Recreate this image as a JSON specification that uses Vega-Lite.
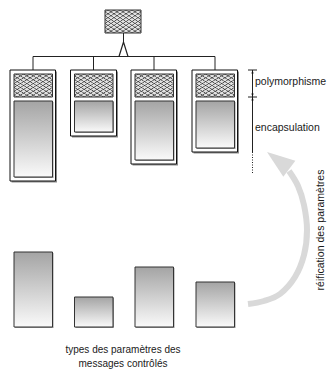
{
  "$schema": "https://vega.github.io/schema/vega-lite/v6.json",
  "width": 327,
  "height": 375,
  "padding": 0,
  "autosize": {"type": "none"},
  "background": "white",
  "config": {"view": {"stroke": null}},
  "datasets": {
    "frames": [
      {"box": 1, "x": 10, "x2": 55.5, "y": 70, "y2": 181},
      {"box": 2, "x": 70.5, "x2": 116.5, "y": 70, "y2": 136},
      {"box": 3, "x": 131, "x2": 176.5, "y": 70, "y2": 164},
      {"box": 4, "x": 192, "x2": 237.5, "y": 70, "y2": 152}
    ],
    "hatch": [
      {"part": "top", "x": 105, "x2": 141, "y": 10, "y2": 33},
      {"part": "box1", "x": 14, "x2": 52.5, "y": 74, "y2": 97},
      {"part": "box2", "x": 74.5, "x2": 113, "y": 74, "y2": 97},
      {"part": "box3", "x": 135, "x2": 173.5, "y": 74, "y2": 97},
      {"part": "box4", "x": 196, "x2": 234.5, "y": 74, "y2": 97}
    ],
    "grad": [
      {"part": "box1", "x": 14, "x2": 52.5, "y": 101, "y2": 177},
      {"part": "box2", "x": 74.5, "x2": 113, "y": 101, "y2": 132},
      {"part": "box3", "x": 135, "x2": 173.5, "y": 101, "y2": 160},
      {"part": "box4", "x": 196, "x2": 234.5, "y": 101, "y2": 148},
      {"part": "bar1", "x": 14, "x2": 52.5, "y": 252, "y2": 327},
      {"part": "bar2", "x": 74.5, "x2": 113, "y": 297, "y2": 327},
      {"part": "bar3", "x": 135, "x2": 173.5, "y": 267, "y2": 327},
      {"part": "bar4", "x": 196, "x2": 234.5, "y": 282, "y2": 327}
    ],
    "links": [
      {"x": 123.5, "y": 33, "x2": 123.5, "y2": 42},
      {"x": 33, "y": 56.5, "x2": 215, "y2": 56.5},
      {"x": 33, "y": 56.5, "x2": 33, "y2": 70},
      {"x": 93.5, "y": 56.5, "x2": 93.5, "y2": 70},
      {"x": 154, "y": 56.5, "x2": 154, "y2": 70},
      {"x": 215, "y": 56.5, "x2": 215, "y2": 70},
      {"x": 252.5, "y": 70, "x2": 252.5, "y2": 152},
      {"x": 248, "y": 70, "x2": 257, "y2": 70},
      {"x": 248, "y": 97, "x2": 257, "y2": 97}
    ],
    "dotted": [
      {"x": 252.5, "y": 152, "x2": 252.5, "y2": 174}
    ],
    "tri": [
      {"i": 1, "x": 119, "y": 56.5},
      {"i": 2, "x": 123.5, "y": 42},
      {"i": 3, "x": 128, "y": 56.5}
    ],
    "arc": [
      {"i": 1, "x": 248, "y": 304},
      {"i": 2, "x": 264, "y": 301},
      {"i": 3, "x": 280, "y": 294},
      {"i": 4, "x": 295, "y": 277},
      {"i": 5, "x": 304, "y": 255},
      {"i": 6, "x": 307, "y": 230},
      {"i": 7, "x": 304, "y": 205},
      {"i": 8, "x": 298, "y": 186},
      {"i": 9, "x": 289, "y": 171}
    ],
    "arcHead": [{"x": 267, "y": 152}],
    "arrows": [
      {"dir": "up", "x": 252.5, "y": 70},
      {"dir": "down", "x": 252.5, "y": 97},
      {"dir": "up", "x": 252.5, "y": 97}
    ],
    "sideLabels": [
      {"label": "polymorphisme", "x": 255, "y": 82},
      {"label": "encapsulation", "x": 255, "y": 128}
    ],
    "caption": [
      {"label": "types des paramètres des", "x": 123, "y": 350},
      {"label": "messages contrôlés", "x": 123, "y": 364}
    ],
    "vertical": [
      {"label": "réification des paramètres", "x": 321, "y": 230}
    ]
  },
  "encoding": {
    "x": {"field": "x", "type": "quantitative", "scale": {"domain": [0, 327], "range": [0, 327], "nice": false, "zero": false}, "axis": null},
    "y": {"field": "y", "type": "quantitative", "scale": {"domain": [0, 375], "range": [0, 375], "nice": false, "zero": false}, "axis": null}
  },
  "layer": [
    {
      "data": {"name": "frames"},
      "mark": {"type": "rect", "fill": "#8c8c8c", "xOffset": 1.5, "x2Offset": 1.5, "yOffset": 1.5, "y2Offset": 1.5},
      "encoding": {"x2": {"field": "x2"}, "y2": {"field": "y2"}}
    },
    {
      "data": {"name": "frames"},
      "mark": {"type": "rect", "fill": "white", "stroke": "#111111", "strokeWidth": 1},
      "encoding": {"x2": {"field": "x2"}, "y2": {"field": "y2"}}
    },
    {
      "data": {"name": "hatch"},
      "mark": {"type": "rect", "fill": "#e2e2e2"},
      "encoding": {"x2": {"field": "x2"}, "y2": {"field": "y2"}}
    },
    {
      "data": {"name": "hatch"},
      "mark": {
        "type": "rect",
        "fill": {"gradient": "linear", "x1": 0, "y1": 0, "x2": 1, "y2": 1, "stops": [
          {"offset": 0.025, "color": "rgba(40,40,40,0)"}, {"offset": 0.042, "color": "rgba(40,40,40,0.8)"}, {"offset": 0.058, "color": "rgba(40,40,40,0)"},
          {"offset": 0.108, "color": "rgba(40,40,40,0)"}, {"offset": 0.125, "color": "rgba(40,40,40,0.8)"}, {"offset": 0.142, "color": "rgba(40,40,40,0)"},
          {"offset": 0.192, "color": "rgba(40,40,40,0)"}, {"offset": 0.208, "color": "rgba(40,40,40,0.8)"}, {"offset": 0.225, "color": "rgba(40,40,40,0)"},
          {"offset": 0.275, "color": "rgba(40,40,40,0)"}, {"offset": 0.292, "color": "rgba(40,40,40,0.8)"}, {"offset": 0.308, "color": "rgba(40,40,40,0)"},
          {"offset": 0.358, "color": "rgba(40,40,40,0)"}, {"offset": 0.375, "color": "rgba(40,40,40,0.8)"}, {"offset": 0.392, "color": "rgba(40,40,40,0)"},
          {"offset": 0.442, "color": "rgba(40,40,40,0)"}, {"offset": 0.458, "color": "rgba(40,40,40,0.8)"}, {"offset": 0.475, "color": "rgba(40,40,40,0)"},
          {"offset": 0.525, "color": "rgba(40,40,40,0)"}, {"offset": 0.542, "color": "rgba(40,40,40,0.8)"}, {"offset": 0.558, "color": "rgba(40,40,40,0)"},
          {"offset": 0.608, "color": "rgba(40,40,40,0)"}, {"offset": 0.625, "color": "rgba(40,40,40,0.8)"}, {"offset": 0.642, "color": "rgba(40,40,40,0)"},
          {"offset": 0.692, "color": "rgba(40,40,40,0)"}, {"offset": 0.708, "color": "rgba(40,40,40,0.8)"}, {"offset": 0.725, "color": "rgba(40,40,40,0)"},
          {"offset": 0.775, "color": "rgba(40,40,40,0)"}, {"offset": 0.792, "color": "rgba(40,40,40,0.8)"}, {"offset": 0.808, "color": "rgba(40,40,40,0)"},
          {"offset": 0.858, "color": "rgba(40,40,40,0)"}, {"offset": 0.875, "color": "rgba(40,40,40,0.8)"}, {"offset": 0.892, "color": "rgba(40,40,40,0)"},
          {"offset": 0.942, "color": "rgba(40,40,40,0)"}, {"offset": 0.958, "color": "rgba(40,40,40,0.8)"}, {"offset": 0.975, "color": "rgba(40,40,40,0)"}
        ]}
      },
      "encoding": {"x2": {"field": "x2"}, "y2": {"field": "y2"}}
    },
    {
      "data": {"name": "hatch"},
      "mark": {
        "type": "rect",
        "stroke": "#333333",
        "strokeWidth": 1,
        "fill": {"gradient": "linear", "x1": 1, "y1": 0, "x2": 0, "y2": 1, "stops": [
          {"offset": 0.025, "color": "rgba(40,40,40,0)"}, {"offset": 0.042, "color": "rgba(40,40,40,0.8)"}, {"offset": 0.058, "color": "rgba(40,40,40,0)"},
          {"offset": 0.108, "color": "rgba(40,40,40,0)"}, {"offset": 0.125, "color": "rgba(40,40,40,0.8)"}, {"offset": 0.142, "color": "rgba(40,40,40,0)"},
          {"offset": 0.192, "color": "rgba(40,40,40,0)"}, {"offset": 0.208, "color": "rgba(40,40,40,0.8)"}, {"offset": 0.225, "color": "rgba(40,40,40,0)"},
          {"offset": 0.275, "color": "rgba(40,40,40,0)"}, {"offset": 0.292, "color": "rgba(40,40,40,0.8)"}, {"offset": 0.308, "color": "rgba(40,40,40,0)"},
          {"offset": 0.358, "color": "rgba(40,40,40,0)"}, {"offset": 0.375, "color": "rgba(40,40,40,0.8)"}, {"offset": 0.392, "color": "rgba(40,40,40,0)"},
          {"offset": 0.442, "color": "rgba(40,40,40,0)"}, {"offset": 0.458, "color": "rgba(40,40,40,0.8)"}, {"offset": 0.475, "color": "rgba(40,40,40,0)"},
          {"offset": 0.525, "color": "rgba(40,40,40,0)"}, {"offset": 0.542, "color": "rgba(40,40,40,0.8)"}, {"offset": 0.558, "color": "rgba(40,40,40,0)"},
          {"offset": 0.608, "color": "rgba(40,40,40,0)"}, {"offset": 0.625, "color": "rgba(40,40,40,0.8)"}, {"offset": 0.642, "color": "rgba(40,40,40,0)"},
          {"offset": 0.692, "color": "rgba(40,40,40,0)"}, {"offset": 0.708, "color": "rgba(40,40,40,0.8)"}, {"offset": 0.725, "color": "rgba(40,40,40,0)"},
          {"offset": 0.775, "color": "rgba(40,40,40,0)"}, {"offset": 0.792, "color": "rgba(40,40,40,0.8)"}, {"offset": 0.808, "color": "rgba(40,40,40,0)"},
          {"offset": 0.858, "color": "rgba(40,40,40,0)"}, {"offset": 0.875, "color": "rgba(40,40,40,0.8)"}, {"offset": 0.892, "color": "rgba(40,40,40,0)"},
          {"offset": 0.942, "color": "rgba(40,40,40,0)"}, {"offset": 0.958, "color": "rgba(40,40,40,0.8)"}, {"offset": 0.975, "color": "rgba(40,40,40,0)"}
        ]}
      },
      "encoding": {"x2": {"field": "x2"}, "y2": {"field": "y2"}}
    },
    {
      "data": {"name": "grad"},
      "mark": {"type": "rect", "fill": "#9a9a9a", "xOffset": 1, "x2Offset": 1, "yOffset": 1, "y2Offset": 1},
      "encoding": {"x2": {"field": "x2"}, "y2": {"field": "y2"}}
    },
    {
      "data": {"name": "grad"},
      "mark": {
        "type": "rect",
        "stroke": "#333333",
        "strokeWidth": 1,
        "fill": {"gradient": "linear", "x1": 0, "y1": 0, "x2": 0, "y2": 1, "stops": [{"offset": 0, "color": "#a4a4a4"}, {"offset": 1, "color": "#fafafa"}]}
      },
      "encoding": {"x2": {"field": "x2"}, "y2": {"field": "y2"}}
    },
    {
      "data": {"name": "links"},
      "mark": {"type": "rule", "color": "#222222", "strokeWidth": 1},
      "encoding": {"x2": {"field": "x2"}, "y2": {"field": "y2"}}
    },
    {
      "data": {"name": "dotted"},
      "mark": {"type": "rule", "color": "#222222", "strokeWidth": 1, "strokeDash": [1, 1.5]},
      "encoding": {"x2": {"field": "x2"}, "y2": {"field": "y2"}}
    },
    {
      "data": {"name": "tri"},
      "mark": {"type": "line", "color": "#222222", "strokeWidth": 1.2},
      "encoding": {"order": {"field": "i", "type": "quantitative"}}
    },
    {
      "data": {"name": "arc"},
      "mark": {"type": "line", "color": "#d9d9d9", "strokeWidth": 6, "interpolate": "cardinal"},
      "encoding": {"order": {"field": "i", "type": "quantitative"}}
    },
    {
      "data": {"name": "arcHead"},
      "mark": {"type": "point", "shape": "M0,0L-1,2.8L1,2.8Z", "filled": true, "color": "#d9d9d9", "opacity": 1, "size": 400, "angle": 307}
    },
    {
      "data": {"name": "arrows"},
      "transform": [{"filter": "datum.dir == 'up'"}],
      "mark": {"type": "point", "shape": "M0,0L-1.1,3.5L1.1,3.5Z", "filled": true, "color": "#111111", "opacity": 1, "size": 4}
    },
    {
      "data": {"name": "arrows"},
      "transform": [{"filter": "datum.dir == 'down'"}],
      "mark": {"type": "point", "shape": "M0,0L-1.1,-3.5L1.1,-3.5Z", "filled": true, "color": "#111111", "opacity": 1, "size": 4}
    },
    {
      "data": {"name": "sideLabels"},
      "mark": {"type": "text", "align": "left", "baseline": "middle", "font": "Liberation Sans, Arial, sans-serif", "fontSize": 10.5, "color": "#1a1a1a"},
      "encoding": {"text": {"field": "label"}}
    },
    {
      "data": {"name": "caption"},
      "mark": {"type": "text", "align": "center", "baseline": "middle", "font": "Liberation Sans, Arial, sans-serif", "fontSize": 10, "color": "#1a1a1a"},
      "encoding": {"text": {"field": "label"}}
    },
    {
      "data": {"name": "vertical"},
      "mark": {"type": "text", "align": "center", "baseline": "middle", "angle": 270, "font": "Liberation Sans, Arial, sans-serif", "fontSize": 10.5, "color": "#1a1a1a"},
      "encoding": {"text": {"field": "label"}}
    }
  ]
}
